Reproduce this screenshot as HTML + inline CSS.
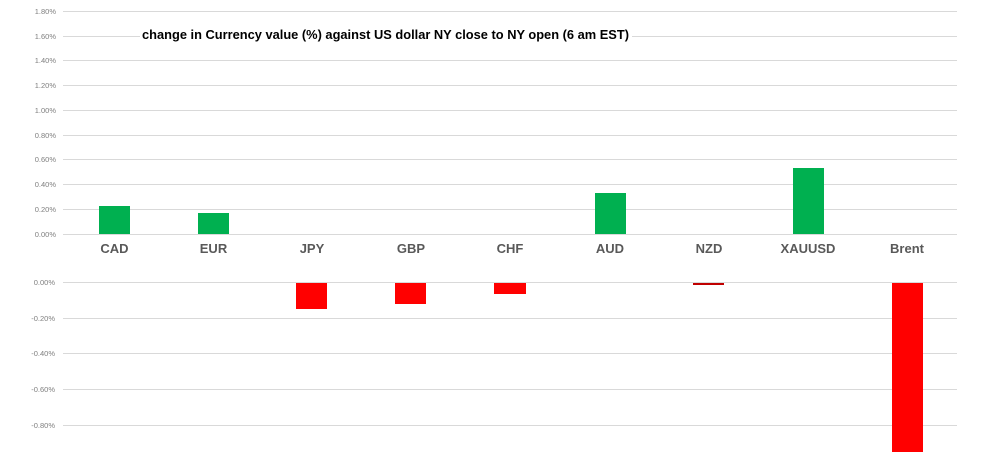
<!DOCTYPE html>
<html><head><style>body{margin:0;background:#fff}svg{display:block}</style></head><body>
<svg width="988" height="452" viewBox="0 0 988 452" xmlns="http://www.w3.org/2000/svg" font-family="Liberation Sans, sans-serif">
<g stroke="#d9d9d9" stroke-width="1">
<line x1="63" x2="957" y1="11.5" y2="11.5"/><line x1="63" x2="957" y1="36.5" y2="36.5"/><line x1="63" x2="957" y1="60.5" y2="60.5"/><line x1="63" x2="957" y1="85.5" y2="85.5"/><line x1="63" x2="957" y1="110.5" y2="110.5"/><line x1="63" x2="957" y1="135.5" y2="135.5"/><line x1="63" x2="957" y1="159.5" y2="159.5"/><line x1="63" x2="957" y1="184.5" y2="184.5"/><line x1="63" x2="957" y1="209.5" y2="209.5"/><line x1="63" x2="957" y1="234.5" y2="234.5"/>
<line x1="63" x2="957" y1="282.5" y2="282.5"/><line x1="63" x2="957" y1="318.5" y2="318.5"/><line x1="63" x2="957" y1="353.5" y2="353.5"/><line x1="63" x2="957" y1="389.5" y2="389.5"/><line x1="63" x2="957" y1="425.5" y2="425.5"/>
</g>
<g font-size="7.5" fill="#7f7f7f" text-anchor="end">
<text x="56" y="14">1.80%</text><text x="56" y="39">1.60%</text><text x="56" y="63">1.40%</text><text x="56" y="88">1.20%</text><text x="56" y="113">1.00%</text><text x="56" y="138">0.80%</text><text x="56" y="162">0.60%</text><text x="56" y="187">0.40%</text><text x="56" y="212">0.20%</text><text x="56" y="237">0.00%</text>
<text x="55" y="285">0.00%</text><text x="55" y="321">-0.20%</text><text x="55" y="356">-0.40%</text><text x="55" y="392">-0.60%</text><text x="55" y="428">-0.80%</text>
</g>
<rect x="140" y="26" width="492" height="18" fill="#fff"/>
<text x="142" y="39" font-size="12.5" font-weight="bold" fill="#000" textLength="487" lengthAdjust="spacingAndGlyphs">change in Currency value (%)  against US dollar NY  close to NY open (6 am EST)</text>
<g fill="#00b050">
<rect x="99" y="206" width="31" height="28"/><rect x="198" y="213" width="31" height="21"/><rect x="595" y="193" width="31" height="41"/><rect x="793" y="168" width="31" height="66"/>
</g>
<g fill="#ff0000">
<rect x="296" y="283" width="31" height="26"/><rect x="395" y="283" width="31" height="21"/><rect x="494" y="283" width="32" height="11"/><rect x="892" y="283" width="31" height="169"/>
</g>
<rect x="693" y="283" width="31" height="2" fill="#c00000"/>
<g font-size="13" font-weight="bold" fill="#595959" text-anchor="middle">
<text x="114.5" y="253">CAD</text><text x="213.5" y="253">EUR</text><text x="312" y="253">JPY</text><text x="411" y="253">GBP</text><text x="510" y="253">CHF</text><text x="610" y="253">AUD</text><text x="709" y="253">NZD</text><text x="808" y="253">XAUUSD</text><text x="907" y="253">Brent</text>
</g>
</svg>
</body></html>
